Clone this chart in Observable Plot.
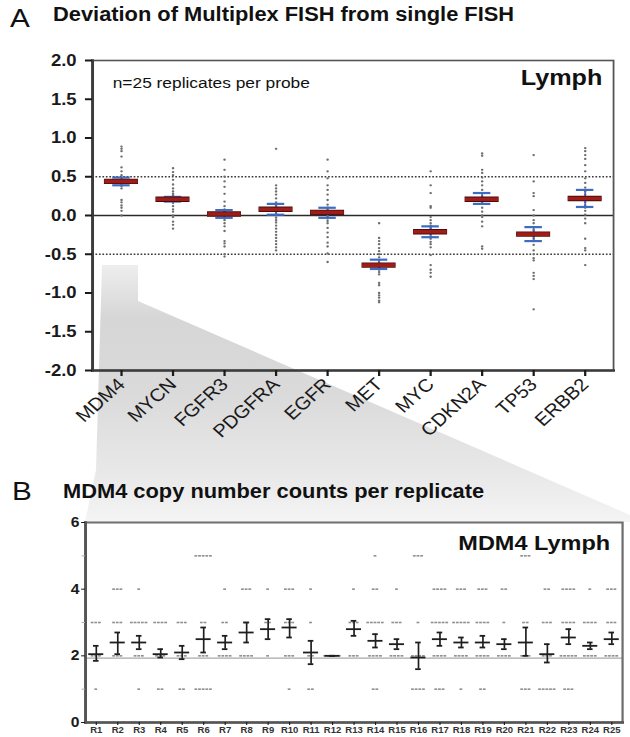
<!DOCTYPE html>
<html>
<head>
<meta charset="utf-8">
<script src="https://cdn.jsdelivr.net/npm/d3@7"></script>
<script src="https://cdn.jsdelivr.net/npm/@observablehq/plot@0.6"></script>
<style>
  body { margin: 0; background: #fff; font-family: "Liberation Sans", Arial, sans-serif; }
  #root { position: relative; width: 630px; height: 737px; overflow: hidden; background: #fff; }
  .abs { position: absolute; line-height: 1; white-space: nowrap; transform: scaleX(1.12); transform-origin: 0 0; color: #111; }
  #wedge { position: absolute; left: 0; top: 260px; width: 630px; height: 265px;
    background: linear-gradient(to bottom, #f0f0f0 0%, #d6d6d6 22%, #dadada 50%, #e8e8e8 80%, #f5f5f5 100%);
    clip-path: polygon(102px 5px, 138px 5px, 138px 41px, 630px 255px, 630px 262px, 85px 262px, 96px 210px); }
  .plotbox { position: absolute; left: 0; }
</style>
</head>
<body>
<div id="root">
  <div id="wedge"></div>
  <div class="abs" style="left:10px; top:4.6px; font-size:26.5px;">A</div>
  <div class="abs" style="left:52.5px; top:4.5px; font-size:19.5px; font-weight:bold;">Deviation of Multiplex FISH from single FISH</div>
  <div class="abs" style="left:12px; top:477.6px; font-size:26.5px;">B</div>
  <div class="abs" style="left:62.6px; top:481.8px; font-size:19.5px; font-weight:bold;">MDM4 copy number counts per replicate</div>
  <div id="top" class="plotbox" style="top:40px;"></div>
  <div id="bottom" class="plotbox" style="top:500px;"></div>
</div>
<script>
// ---------- Panel A data ----------
const genes = ["MDM4","MYCN","FGFR3","PDGFRA","EGFR","MET","MYC","CDKN2A","TP53","ERBB2"];
const geneMean = [0.44, 0.21, 0.02, 0.08, 0.04, -0.64, -0.21, 0.21, -0.24, 0.22];
const geneLo   = [0.39, 0.18, -0.03, 0.01, -0.03, -0.69, -0.28, 0.15, -0.33, 0.11];
const geneHi   = [0.49, 0.24, 0.07, 0.15, 0.10, -0.57, -0.14, 0.29, -0.15, 0.33];

const devMDM4   = [0.89,0.86,0.83,0.76,0.62,0.57,0.52,0.49,0.47,0.46,0.45,0.44,0.44,0.43,0.42,0.41,0.40,0.38,0.35,0.20,0.17,0.13,0.10,0.06,0.00];
const devMYCN   = [0.61,0.56,0.52,0.46,0.40,0.35,0.31,0.28,0.26,0.24,0.23,0.22,0.21,0.20,0.19,0.18,0.16,0.12,0.08,0.05,0.00,-0.02,-0.08,-0.12,-0.17];
const devFGFR3  = [0.72,0.59,0.50,0.44,0.37,0.28,0.18,0.12,0.08,0.05,0.03,0.02,0.01,0.00,-0.02,-0.04,-0.06,-0.10,-0.14,-0.20,-0.33,-0.36,-0.40,-0.50,-0.53];
const devPDGFRA = [0.86,0.39,0.35,0.31,0.27,0.22,0.17,0.13,0.10,0.08,0.06,0.03,0.00,-0.03,-0.06,-0.09,-0.13,-0.17,-0.21,-0.25,-0.29,-0.33,-0.37,-0.41,-0.45];
const devEGFR   = [0.72,0.57,0.48,0.39,0.33,0.27,0.20,0.14,0.10,0.07,0.05,0.04,0.03,0.01,-0.02,-0.04,-0.07,-0.10,-0.16,-0.22,-0.28,-0.35,-0.40,-0.49,-0.60];
const devMET    = [-0.10,-0.29,-0.33,-0.37,-0.42,-0.46,-0.50,-0.54,-0.58,-0.61,-0.63,-0.64,-0.65,-0.66,-0.68,-0.70,-0.73,-0.76,-0.87,-0.90,-1.00,-1.03,-1.06,-1.10,-1.12];
const devMYC    = [0.57,0.39,0.29,0.12,0.10,-0.02,-0.06,-0.10,-0.13,-0.16,-0.18,-0.20,-0.21,-0.22,-0.24,-0.27,-0.30,-0.34,-0.37,-0.41,-0.51,-0.64,-0.70,-0.74,-0.79];
const devCDKN2A = [0.80,0.77,0.59,0.55,0.49,0.44,0.39,0.33,0.29,0.25,0.23,0.22,0.21,0.20,0.19,0.17,0.15,0.10,0.05,0.00,-0.02,-0.08,-0.14,-0.40,-0.43];
const devTP53   = [0.78,0.44,0.29,0.25,0.07,0.00,-0.06,-0.10,-0.15,-0.19,-0.22,-0.24,-0.25,-0.27,-0.30,-0.33,-0.38,-0.45,-0.50,-0.55,-0.58,-0.74,-0.78,-0.82,-1.21];
const devERBB2  = [0.87,0.83,0.78,0.73,0.65,0.57,0.48,0.42,0.36,0.31,0.27,0.24,0.22,0.20,0.17,0.13,0.10,0.06,0.01,-0.04,-0.10,-0.30,-0.42,-0.45,-0.64];
const yTicksA = [-2, -1.5, -1, -0.5, 0, 0.5, 1, 1.5, 2];
const noteA = ["n=25 replicates per probe"];
const tissueA = ["Lymph"];

// ---------- Panel B data ----------
const repLabels = ["R1","R2","R3","R4","R5","R6","R7","R8","R9","R10","R11","R12","R13","R14","R15","R16","R17","R18","R19","R20","R21","R22","R23","R24","R25"];
const bMean = [2.05,2.40,2.40,2.05,2.10,2.50,2.40,2.70,2.80,2.85,2.10,2.00,2.80,2.45,2.35,1.95,2.50,2.40,2.40,2.35,2.40,2.05,2.55,2.30,2.50];
const bLo   = [1.85,2.05,2.20,1.95,1.90,2.10,2.20,2.40,2.50,2.55,1.75,2.00,2.60,2.25,2.20,1.60,2.30,2.25,2.25,2.20,2.00,1.80,2.35,2.20,2.35];
const bHi   = [2.30,2.70,2.60,2.20,2.30,2.85,2.60,3.00,3.10,3.10,2.45,2.00,3.05,2.65,2.50,2.40,2.70,2.55,2.60,2.50,2.85,2.35,2.80,2.40,2.70];
// number of cells shown at each copy number level, per replicate
const cn1 = [1,0,1,2,2,5,0,0,0,1,2,0,0,2,0,4,3,1,2,0,3,5,3,0,0];
const cn2 = [3,3,3,3,3,3,4,4,1,3,2,5,3,4,4,4,4,4,4,4,3,3,5,4,4];
const cn3 = [3,3,5,4,3,2,2,2,2,3,1,0,3,5,3,1,5,5,4,1,2,3,4,4,3];
const cn4 = [0,3,1,0,0,0,1,3,1,3,1,0,1,2,1,0,4,3,3,2,0,2,4,1,3];
const cn5 = [0,0,0,0,0,5,0,0,0,0,0,0,0,1,0,3,0,0,0,0,3,0,0,0,0];
const refLevelB = [1.93];
const yTicksB = [0, 2, 4, 6];
const yMinorB = [1, 3, 5];
const tissueB = ["MDM4 Lymph"];

// ---------- build ----------
const SX = 1.12;           // horizontal stretch of the original figure
const W = 630 / SX;

const reps = [devMDM4, devMYCN, devFGFR3, devPDGFRA, devEGFR, devMET, devMYC, devCDKN2A, devTP53, devERBB2]
  .flatMap((arr, gi) => arr.map(v => ({gene: genes[gi], value: v})));
const statsA = genes.map((g, i) => ({gene: g, mean: geneMean[i], lo: geneLo[i], hi: geneHi[i]}));

function stretch(svg, h) {
  svg.setAttribute("preserveAspectRatio", "none");
  svg.setAttribute("viewBox", `0 0 ${W} ${h}`);
  svg.setAttribute("width", 630);
  svg.setAttribute("height", h);
  svg.style.width = "630px";
  svg.style.height = h + "px";
  svg.style.maxWidth = "none";
  svg.style.background = "transparent";
  return svg;
}

const hA = 440;
const plotA = Plot.plot({
  width: W, height: hA,
  marginTop: 20, marginBottom: 110, marginLeft: 92 / SX, marginRight: W - 613 / SX,
  style: {background: "transparent", fontFamily: "Liberation Sans, Arial, sans-serif", color: "#1a1a1a"},
  x: {type: "band", domain: genes, padding: 0},
  y: {domain: [-2, 2]},
  marks: [
    Plot.ruleY([-0.5, 0.5], {stroke: "#3a3a3a", strokeWidth: 1.7, strokeDasharray: "1.5,1.6"}),
    Plot.ruleY([0], {stroke: "#2a2a2a", strokeWidth: 1.6}),
    Plot.dot(reps, {x: "gene", y: "value", r: 1.15, fill: "#6e6e6e"}),
    Plot.ruleX(statsA, {x: "gene", y1: "lo", y2: "hi", stroke: "#3d6cc0", strokeWidth: 1.5}),
    Plot.tickY(statsA, {x: "gene", y: "lo", stroke: "#3d6cc0", strokeWidth: 2.2, inset: 15.2}),
    Plot.tickY(statsA, {x: "gene", y: "hi", stroke: "#3d6cc0", strokeWidth: 2.2, inset: 15.2}),
    Plot.tickY(statsA, {x: "gene", y: "mean", stroke: "#4a0c0c", strokeWidth: 5.4, inset: 7.8}),
    Plot.tickY(statsA, {x: "gene", y: "mean", stroke: "#a01c19", strokeWidth: 3.6, inset: 8.2}),
    Plot.frame({stroke: "#555", strokeWidth: 1.6}),
    Plot.frame({anchor: "left", stroke: "#3c3c3c", strokeWidth: 2.6}),
    Plot.frame({anchor: "bottom", stroke: "#3c3c3c", strokeWidth: 2.6}),
    Plot.axisY({ticks: yTicksA, tickFormat: d => d.toFixed(1), tickSize: 6.3, tickPadding: 8, fontSize: 16.5, fontWeight: "bold", label: null, strokeWidth: 2}),
    Plot.axisX({tickRotate: -45, tickSize: 6, tickPadding: 5, fontSize: 18, label: null, strokeWidth: 2}),
    Plot.text(noteA, {frameAnchor: "top-left", textAnchor: "start", lineAnchor: "top", dx: 18, dy: 16, fontSize: 15.5, fill: "#111"}),
    Plot.text(tissueA, {frameAnchor: "top-right", textAnchor: "end", lineAnchor: "top", dx: -10, dy: 9, fontSize: 22.5, fontWeight: "bold", fill: "#111"})
  ]
});
document.getElementById("top").appendChild(stretch(plotA, hA));

// Panel B
const statsB = repLabels.map((r, i) => ({i: i + 1, mean: bMean[i], lo: bLo[i], hi: bHi[i]}));
const counts = [cn1, cn2, cn3, cn4, cn5];
const dashes = [];
counts.forEach((arr, li) => {
  arr.forEach((n, ri) => {
    for (let k = 0; k < n; k++) dashes.push({x: ri + 1 + (k - (n - 1) / 2) * 0.17, level: li + 1});
  });
});

const hB = 237;
const plotB = Plot.plot({
  width: W, height: hB,
  marginTop: 22, marginBottom: 15, marginLeft: 85 / SX, marginRight: W - 622 / SX,
  style: {background: "transparent", fontFamily: "Liberation Sans, Arial, sans-serif", color: "#1a1a1a"},
  x: {domain: [0.5, 25.5]},
  y: {domain: [0, 6]},
  marks: [
    Plot.ruleY(refLevelB, {stroke: "#a8a8a8", strokeWidth: 1.2}),
    Plot.ruleY(dashes, {y: "level", x1: d => d.x - 0.065, x2: d => d.x + 0.065, stroke: "#8f8f8f", strokeWidth: 1.6}),
    Plot.ruleX(statsB, {x: "i", y1: "lo", y2: "hi", stroke: "#1e1e1e", strokeWidth: 1.5}),
    Plot.ruleY(statsB, {y: "lo", x1: d => d.i - 0.13, x2: d => d.i + 0.13, stroke: "#1e1e1e", strokeWidth: 1.8}),
    Plot.ruleY(statsB, {y: "hi", x1: d => d.i - 0.13, x2: d => d.i + 0.13, stroke: "#1e1e1e", strokeWidth: 1.8}),
    Plot.ruleY(statsB, {y: "mean", x1: d => d.i - 0.35, x2: d => d.i + 0.35, stroke: "#1e1e1e", strokeWidth: 1.8}),
    Plot.frame({stroke: "#6e6e6e", strokeWidth: 2}),
    Plot.frame({anchor: "left", stroke: "#555", strokeWidth: 2.6}),
    Plot.frame({anchor: "bottom", stroke: "#555", strokeWidth: 2.6}),
    Plot.axisY({ticks: yTicksB, tickFormat: d => String(d), tickSize: 3.5, tickPadding: 2, fontSize: 14, fontWeight: "bold", label: null}),
    Plot.axisY({ticks: yMinorB, tickFormat: () => "", tickSize: 3, stroke: "#aaa", label: null}),
    Plot.axisX({ticks: d3.range(1, 26), tickFormat: i => repLabels[i - 1], tickSize: 3, tickPadding: 1.5, fontSize: 8.5, fontWeight: "bold", label: null, fill: "#333"}),
    Plot.text(tissueB, {frameAnchor: "top-right", textAnchor: "end", lineAnchor: "top", dx: -11, dy: 13, fontSize: 21, fontWeight: "bold", fill: "#111"})
  ]
});
document.getElementById("bottom").appendChild(stretch(plotB, hB));
</script>
</body>
</html>
